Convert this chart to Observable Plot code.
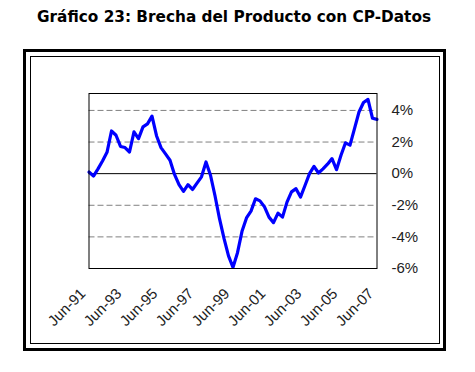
<!DOCTYPE html>
<html>
<head>
<meta charset="utf-8">
<script src="https://cdn.jsdelivr.net/npm/d3@7"></script>
<script src="https://cdn.jsdelivr.net/npm/@observablehq/plot@0.6"></script>
<style>
  html, body { margin: 0; padding: 0; background: #fff; }
  #wrap { position: relative; width: 475px; height: 372px; overflow: hidden; }
  #title { position: absolute; left: 0; top: 8px; width: 468px; text-align: center;
    font-family: "DejaVu Sans", Verdana, sans-serif; font-weight: bold; font-size: 15.3px; color: #000; }
  #outer { position: absolute; left: 23px; top: 49px; width: 423px; height: 302px; box-sizing: border-box; border: 3px solid #000; }
  #inner { position: absolute; left: 30px; top: 56px; width: 410px; height: 288px; box-sizing: border-box; border: 1px solid #000; }
  #chart { position: absolute; left: 0; top: 0; }
</style>
</head>
<body>
<div id="wrap">
  <div id="title">Gráfico 23: Brecha del Producto con CP-Datos</div>
  <div id="outer"></div>
  <div id="inner"></div>
  <div id="chart"></div>
</div>
<script>
// Quarterly output gap (%), Jun-91 .. Jun-07
const gapValues = [
  0.1, -0.15, 0.3, 0.8, 1.35, 2.7, 2.43, 1.72, 1.65, 1.37,
  2.64, 2.22, 2.96, 3.15, 3.64, 2.4, 1.65, 1.25, 0.85, -0.05,
  -0.7, -1.12, -0.7, -1.0, -0.6, -0.2, 0.74, -0.1, -1.4, -2.85,
  -4.1, -5.2, -5.93, -5.0, -3.65, -2.8, -2.37, -1.59, -1.72, -2.1,
  -2.75, -3.1, -2.5, -2.75, -1.8, -1.15, -0.95, -1.48, -0.75, 0.0,
  0.46, 0.04, 0.3, 0.6, 0.95, 0.25, 1.16, 1.95, 1.8, 2.85,
  3.9, 4.5, 4.7, 3.5, 3.43
];
const xTickIndex = [0, 8, 16, 24, 32, 40, 48, 56, 64];
const xTickLabels = ["Jun-91", "Jun-93", "Jun-95", "Jun-97", "Jun-99", "Jun-01", "Jun-03", "Jun-05", "Jun-07"];
const yTicks = [4, 2, 0, -2, -4, -6];
const yGrid = [4, 2, -2, -4];

const data = gapValues.map((v, i) => ({i, v}));
const labelFont = "'Liberation Sans', Arial, sans-serif";

const chart = Plot.plot({
  width: 475,
  height: 372,
  marginLeft: 88.5,
  marginRight: 98.5,
  marginTop: 93,
  marginBottom: 104,
  style: {background: "transparent", fontFamily: labelFont},
  x: {domain: [0, gapValues.length - 1], axis: null},
  y: {domain: [-6, 5.07], axis: null},
  marks: [
    Plot.ruleY(yGrid, {stroke: "#808080", strokeDasharray: "6,3", strokeWidth: 1}),
    Plot.ruleY([0], {stroke: "#000", strokeWidth: 1}),
    Plot.line(data, {x: "i", y: "v", stroke: "#0000ff", strokeWidth: 3.2, strokeLinejoin: "round"}),
    Plot.frame({stroke: "#000", strokeWidth: 1}),
    Plot.text(yTicks, {x: gapValues.length - 1, y: d => d, text: d => d + "%", textAnchor: "start", dx: 14.5, fontSize: 15, fontFamily: labelFont, fill: "#222"}),
    Plot.text(xTickIndex, {x: d => d, frameAnchor: "bottom", text: (d, k) => xTickLabels[k], rotate: -45, textAnchor: "end", lineAnchor: "bottom", dy: 26, dx: -2.5, fontSize: 15, fontFamily: labelFont, fill: "#222"})
  ]
});
document.getElementById("chart").appendChild(chart);
</script>
</body>
</html>
